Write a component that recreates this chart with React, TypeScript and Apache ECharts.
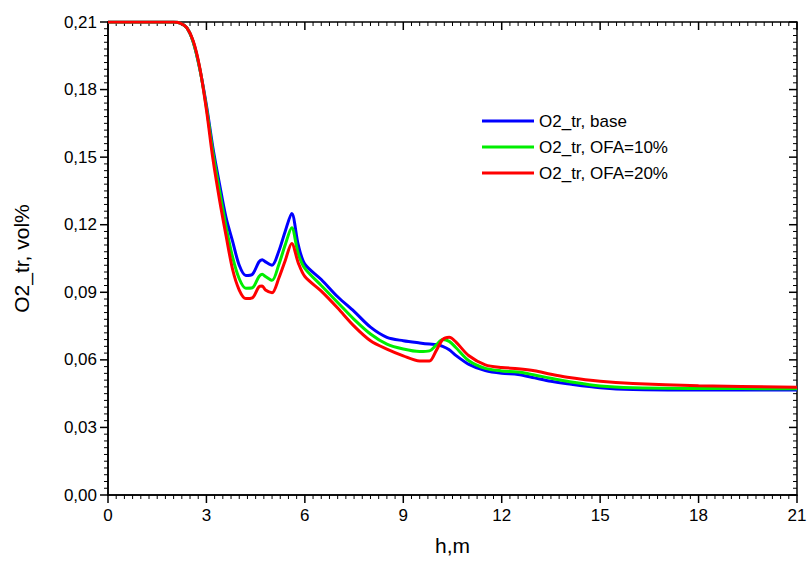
import React, { useEffect, useRef } from "react";
import * as echarts from "echarts";

const hValues = [0, 1, 2, 2.2, 2.4, 2.6, 2.8, 3.0, 3.2, 3.4, 3.6, 3.8, 4.0, 4.2, 4.4, 4.6, 4.7, 4.8, 5.0, 5.2, 5.4, 5.6, 5.8, 6.0, 6.5, 7.0, 7.5, 8.0, 8.5, 9.0, 9.5, 9.8, 10.0, 10.2, 10.4, 10.6, 11.0, 11.5, 12.0, 12.5, 13.0, 13.5, 14.0, 15.0, 16.0, 18.0, 21.0];

const o2Base = [0.21, 0.21, 0.21, 0.2095, 0.2075, 0.201, 0.189, 0.173, 0.154, 0.138, 0.123, 0.1125, 0.102, 0.0975, 0.098, 0.1035, 0.1045, 0.1035, 0.102, 0.108, 0.117, 0.125, 0.111, 0.1025, 0.0957, 0.088, 0.0815, 0.0745, 0.07, 0.0685, 0.0675, 0.067, 0.0668, 0.066, 0.0645, 0.062, 0.058, 0.0552, 0.054, 0.0535, 0.052, 0.0505, 0.0494, 0.0476, 0.0468, 0.0466, 0.0466];

const o2Ofa10 = [0.21, 0.21, 0.21, 0.2095, 0.2075, 0.201, 0.189, 0.172, 0.152, 0.135, 0.119, 0.1055, 0.096, 0.0918, 0.092, 0.097, 0.098, 0.097, 0.0953, 0.102, 0.111, 0.1187, 0.107, 0.1006, 0.093, 0.0855, 0.078, 0.0715, 0.067, 0.0648, 0.0637, 0.064, 0.0665, 0.069, 0.0682, 0.0655, 0.0596, 0.0562, 0.0551, 0.0546, 0.0533, 0.0518, 0.0505, 0.0484, 0.0476, 0.0473, 0.0472];

const o2Ofa20 = [0.21, 0.21, 0.21, 0.2095, 0.2075, 0.2015, 0.1895, 0.171, 0.149, 0.131, 0.115, 0.1, 0.091, 0.0872, 0.0875, 0.0925, 0.0928, 0.091, 0.0898, 0.096, 0.104, 0.1117, 0.103, 0.097, 0.0905, 0.083, 0.075, 0.0685, 0.0648, 0.0618, 0.0595, 0.0595, 0.064, 0.069, 0.07, 0.068, 0.0618, 0.0578, 0.0566, 0.0561, 0.0552, 0.0536, 0.0523, 0.0505, 0.0495, 0.0485, 0.0478];

const seriesNames = ["O2_tr, base", "O2_tr, OFA=10%", "O2_tr, OFA=20%"];
const seriesColors = ["#0000ff", "#00ee00", "#ff0000"];
const seriesValues = [o2Base, o2Ofa10, o2Ofa20];

const xMin = 0;
const xMax = 21;
const xMajorStep = 3;
const xMinorPerMajor = 12;
const yMin = 0;
const yMax = 0.21;
const yMajorStep = 0.03;
const yMinorPerMajor = 10;

const FONT = "'Liberation Sans', Arial, sans-serif";

function tickList(min: number, max: number, step: number, perMajor: number) {
  const out: number[][] = [];
  const n = Math.round((max - min) / step) * perMajor;
  for (let k = 0; k <= n; k++) {
    const v = min + (k * step) / perMajor;
    out.push([v, k % perMajor === 0 ? 1 : 0]);
  }
  return out;
}

export default function App() {
  const ref = useRef<HTMLDivElement>(null);
  useEffect(() => {
    if (!ref.current) return;
    const chart = echarts.init(ref.current, null, { renderer: "svg" });
    const axisLine = { show: true, onZero: false, lineStyle: { color: "#000", width: 1.5 } };
    const xTicks = tickList(xMin, xMax, xMajorStep, xMinorPerMajor).map(([v, m]) => [v, yMin, m]);
    const yTicks = tickList(yMin, yMax, yMajorStep, yMinorPerMajor).map(([v, m]) => [xMin, v, m]);
    const stroke = (w: number) => ({ stroke: "#000", lineWidth: w });

    const option = {
      animation: false,
      backgroundColor: "#fff",
      grid: { left: 108, right: 13, top: 22, bottom: 65 },
      legend: {
        orient: "vertical",
        left: 477,
        top: 107,
        icon: "rect",
        itemWidth: 52,
        itemHeight: 3,
        itemGap: 8,
        data: seriesNames,
        textStyle: { color: "#000", fontSize: 17, fontFamily: FONT, lineHeight: 18 },
      },
      xAxis: {
        type: "value",
        min: xMin,
        max: xMax,
        interval: xMajorStep,
        position: "bottom",
        name: "h,m",
        nameLocation: "middle",
        nameGap: 40,
        nameTextStyle: { color: "#000", fontSize: 21, fontFamily: FONT },
        axisLine,
        axisTick: { show: false },
        minorTick: { show: false },
        axisLabel: { color: "#000", fontSize: 17, fontFamily: FONT, margin: 12 },
        splitLine: { show: false },
      },
      yAxis: {
        type: "value",
        min: yMin,
        max: yMax,
        interval: yMajorStep,
        position: "left",
        name: "O2_tr, vol%",
        nameLocation: "middle",
        nameGap: 76,
        nameTextStyle: { color: "#000", fontSize: 21, fontFamily: FONT },
        axisLine,
        axisTick: { show: false },
        minorTick: { show: false },
        axisLabel: {
          color: "#000",
          fontSize: 17,
          fontFamily: FONT,
          margin: 11,
          formatter: (v: number) => v.toFixed(2).replace(".", ","),
        },
        splitLine: { show: false },
      },
      series: [
        {
          type: "custom",
          name: "frame",
          silent: true,
          clip: false,
          z: 1,
          data: [[xMin, yMin]],
          renderItem: (params: any) => {
            const cs = params.coordSys;
            return {
              type: "rect",
              shape: { x: cs.x, y: cs.y, width: cs.width, height: cs.height },
              style: { fill: "none", stroke: "#000", lineWidth: 1.5 },
            };
          },
        },
        {
          type: "custom",
          name: "xticks",
          silent: true,
          clip: false,
          z: 1,
          encode: { x: 0, y: 1 },
          data: xTicks,
          renderItem: (params: any, api: any) => {
            const cs = params.coordSys;
            const p = api.coord([api.value(0), yMin]);
            const major = api.value(2) === 1;
            const len = major ? 8 : 4;
            const w = major ? 1.5 : 1;
            const yb = cs.y + cs.height;
            return {
              type: "group",
              children: [
                { type: "line", shape: { x1: p[0], y1: yb, x2: p[0], y2: yb + len }, style: stroke(w) },
                { type: "line", shape: { x1: p[0], y1: cs.y, x2: p[0], y2: cs.y + len }, style: stroke(w) },
              ],
            };
          },
        },
        {
          type: "custom",
          name: "yticks",
          silent: true,
          clip: false,
          z: 1,
          encode: { x: 0, y: 1 },
          data: yTicks,
          renderItem: (params: any, api: any) => {
            const cs = params.coordSys;
            const p = api.coord([xMin, api.value(1)]);
            const major = api.value(2) === 1;
            const len = major ? 8 : 4;
            const w = major ? 1.5 : 1;
            const xr = cs.x + cs.width;
            return {
              type: "group",
              children: [
                { type: "line", shape: { x1: cs.x - len, y1: p[1], x2: cs.x, y2: p[1] }, style: stroke(w) },
                { type: "line", shape: { x1: xr - len, y1: p[1], x2: xr, y2: p[1] }, style: stroke(w) },
              ],
            };
          },
        },
        ...seriesNames.map((name, i) => ({
          name,
          type: "line",
          data: hValues.map((h, j) => [h, seriesValues[i][j]]),
          symbol: "none",
          smooth: 0.3,
          color: seriesColors[i],
          lineStyle: { color: seriesColors[i], width: 3 },
          z: 3,
        })),
      ],
    };
    chart.setOption(option as any);
    return () => chart.dispose();
  }, []);
  return <div ref={ref} style={{ width: 810, height: 561, position: "absolute", left: 0, top: 0 }} />;
}
